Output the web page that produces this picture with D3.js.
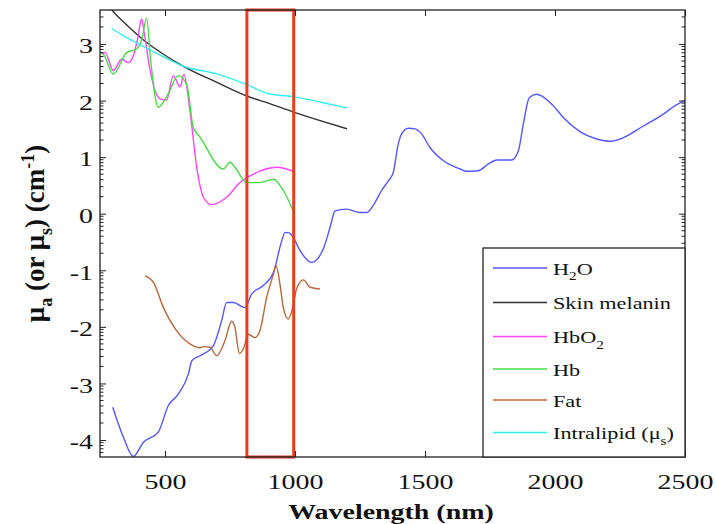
<!DOCTYPE html>
<html>
<head>
<meta charset="utf-8">
<script src="https://cdn.jsdelivr.net/npm/d3@7"></script>
<style>
  body { margin: 0; background: #fff; }
  text { font-family: "Liberation Serif", "Times New Roman", serif; }
</style>
</head>
<body>
<svg id="chart" width="715" height="524"></svg>
<script>
// log10 absorption (or scattering) coefficient, cm^-1
var h2o = [[299,-3.42],[340,-3.95],[378,-4.29],[417,-4.04],[474,-3.86],[513,-3.39],[551,-3.19],[590,-2.83],[603,-2.6],
  [635,-2.51],[686,-2.33],[718,-1.89],[737,-1.57],[763,-1.57],[808,-1.66],[833,-1.42],[878,-1.27],[917,-1.04],[949,-0.48],
  [962,-0.33],[978,-0.34],[993,-0.42],[1019,-0.65],[1064,-0.86],[1109,-0.62],[1135,-0.24],[1154,0.05],[1199,0.08],
  [1250,0.02],[1276,0.02],[1308,0.2],[1333,0.41],[1359,0.58],[1378,0.73],[1397,1.23],[1410,1.41],[1436,1.51],[1462,1.5],
  [1487,1.41],[1519,1.17],[1570,0.94],[1635,0.79],[1660,0.75],[1705,0.76],[1744,0.88],[1776,0.95],[1833,0.95],[1859,1.11],
  [1878,1.58],[1901,2.05],[1929,2.11],[1949,2.08],[1993,1.91],[2032,1.7],[2096,1.45],[2160,1.32],[2212,1.28],[2250,1.32],
  [2340,1.55],[2417,1.76],[2462,1.91],[2500,2.0]];

var melanin = [[280,3.7],[296,3.6],[350,3.35],[431,3.02],[500,2.8],[569,2.61],[700,2.32],[815,2.08],[900,1.95],
  [992,1.8],[1100,1.64],[1200,1.5]];

var hbo2 = [[254,2.83],[269,2.85],[301,2.53],[333,2.73],[359,2.67],[378,2.79],[395,3.1],[410,3.44],[420,3.2],[440,2.6],
  [481,2.03],[506,2.01],[532,2.44],[558,2.24],[573,2.46],[596,1.82],[622,0.82],[648,0.29],[679,0.16],[737,0.29],
  [788,0.55],[840,0.7],[930,0.82],[993,0.75]];

var hb = [[254,2.85],[263,2.82],[301,2.47],[353,2.85],[391,2.91],[412,3.1],[429,3.46],[445,2.7],[474,1.88],[510,2.1],
  [551,2.44],[583,2.29],[609,1.52],[635,1.35],[724,0.79],[750,0.91],[769,0.82],[814,0.55],[865,0.55],[917,0.61],
  [955,0.41],[993,0.05]];

var fat = [[423,-1.1],[455,-1.21],[494,-1.66],[545,-2.07],[596,-2.3],[635,-2.37],[647,-2.35],[673,-2.36],[699,-2.51],
  [731,-2.24],[756,-1.9],[769,-2.01],[786,-2.47],[804,-2.36],[820,-2.13],[846,-2.19],[865,-2.07],[891,-1.48],[917,-1.07],
  [927,-0.92],[942,-1.24],[955,-1.66],[974,-1.86],[991,-1.66],[1006,-1.33],[1032,-1.17],[1058,-1.3],[1096,-1.33]];

var intralipid = [[295,3.27],[350,3.12],[431,2.92],[500,2.76],[569,2.61],[700,2.47],[815,2.28],[900,2.12],[992,2.07],
  [1100,1.97],[1200,1.87]];

var xTicks = [500, 1000, 1500, 2000, 2500];
var yTicks = [-4, -3, -2, -1, 0, 1, 2, 3];
var windowNm = [815, 995];

var series = [
  {name: "H2O", data: h2o, color: "#5555ff"},
  {name: "Skin melanin", data: melanin, color: "#333333"},
  {name: "HbO2", data: hbo2, color: "#ff44ff"},
  {name: "Hb", data: hb, color: "#44dd44"},
  {name: "Fat", data: fat, color: "#b8663c"},
  {name: "Intralipid", data: intralipid, color: "#33eeee"}
];

var margin = {top: 10, right: 30, bottom: 67, left: 100};
var width = 715 - margin.left - margin.right;
var height = 524 - margin.top - margin.bottom;
var sx = 1.27; // text in the figure is stretched sideways

var svg = d3.select('#chart');
var g = svg.append('g').attr('transform', 'translate(' + margin.left + ',' + margin.top + ')');

var x = d3.scaleLinear().domain([250, 2500]).range([0, width]);
var y = d3.scaleLinear().domain([-4.3, 3.6]).range([height, 0]);

g.append('clipPath').attr('id', 'clip')
  .append('rect').attr('width', width).attr('height', height);

var line = d3.line()
  .x(d => x(d[0]))
  .y(d => y(d[1]))
  .curve(d3.curveMonotoneX);

g.append('g').attr('clip-path', 'url(#clip)')
  .selectAll('path')
  .data(series)
  .enter()
  .append('path')
  .attr('d', d => line(d.data))
  .attr('fill', 'none')
  .attr('stroke', d => d.color)
  .attr('stroke-width', 1.4);

// therapeutic window box
g.append('rect')
  .attr('x', x(windowNm[0]))
  .attr('y', 0)
  .attr('width', x(windowNm[1]) - x(windowNm[0]))
  .attr('height', height)
  .attr('fill', 'none')
  .attr('stroke', '#e3401f')
  .attr('stroke-width', 3);

// axes (ticks pointing inward)
var xAxis = g.append('g').attr('transform', 'translate(0,' + height + ')')
  .call(d3.axisBottom(x).tickValues(xTicks).tickFormat(d3.format('d'))
    .tickSizeInner(-6).tickSizeOuter(0).tickPadding(16));
g.append('g')
  .call(d3.axisTop(x).tickValues(xTicks).tickSizeInner(-6).tickSizeOuter(0).tickFormat(''));
var yAxis = g.append('g')
  .call(d3.axisLeft(y).tickValues(yTicks).tickSizeInner(-6).tickSizeOuter(0).tickPadding(0));
g.append('g').attr('transform', 'translate(' + width + ',0)')
  .call(d3.axisRight(y).tickValues(yTicks).tickSizeInner(-6).tickSizeOuter(0).tickFormat(''));

g.selectAll('.domain').remove();
g.selectAll('.tick line').attr('stroke', '#222');

xAxis.selectAll('text')
  .attr('font-size', 22)
  .attr('fill', '#111')
  .attr('transform', 'scale(' + sx + ',1)');
yAxis.selectAll('text')
  .attr('font-size', 22)
  .attr('fill', '#111')
  .attr('x', -7 / sx)
  .attr('dy', '0.4em')
  .text(d => d < 0 ? '-' + Math.abs(d) : d)
  .attr('transform', 'scale(' + sx + ',1)');

// log-style minor ticks on both y sides
var minor = [];
for (var dec = -5; dec <= 3; dec++) {
  for (var k = 2; k <= 9; k++) {
    var v = dec + Math.log10(k);
    if (v > -4.3 && v < 3.6) minor.push(v);
  }
}
g.append('g').selectAll('line').data(minor).enter().append('line')
  .attr('x1', 0).attr('x2', 3.5)
  .attr('y1', d => y(d)).attr('y2', d => y(d))
  .attr('stroke', '#222');
g.append('g').selectAll('line').data(minor).enter().append('line')
  .attr('x1', width).attr('x2', width - 3.5)
  .attr('y1', d => y(d)).attr('y2', d => y(d))
  .attr('stroke', '#222');

// frame
g.append('rect')
  .attr('width', width).attr('height', height)
  .attr('fill', 'none')
  .attr('stroke', '#222')
  .attr('stroke-width', 1.3);

// legend
var legend = g.append('g').attr('transform', 'translate(' + (width - 202) + ',' + (height - 209) + ')');
legend.append('rect')
  .attr('width', 202).attr('height', 209)
  .attr('fill', '#fff')
  .attr('stroke', '#222')
  .attr('stroke-width', 1.3);

var legendRows = [20, 54.5, 88.5, 121, 152, 184.5];
var items = legend.selectAll('.legend-item')
  .data(series)
  .enter()
  .append('g')
  .attr('class', 'legend-item')
  .attr('transform', (d, i) => 'translate(0,' + legendRows[i] + ')');

items.append('line')
  .attr('x1', 10).attr('x2', 64)
  .attr('stroke', d => d.color)
  .attr('stroke-width', 1.4);

var labels = items.append('text')
  .attr('x', 70 / sx)
  .attr('y', 6.5)
  .attr('font-size', 17.5)
  .attr('fill', '#111')
  .attr('transform', 'scale(' + sx + ',1)');

labels.each(function (d) {
  var t = d3.select(this);
  if (d.name === 'H2O') {
    t.append('tspan').text('H');
    t.append('tspan').attr('dy', 6).attr('font-size', 12).text('2');
    t.append('tspan').attr('dy', -6).text('O');
  } else if (d.name === 'HbO2') {
    t.append('tspan').text('HbO');
    t.append('tspan').attr('dy', 6).attr('font-size', 12).text('2');
  } else if (d.name === 'Intralipid') {
    t.append('tspan').text('Intralipid (\u03bc');
    t.append('tspan').attr('dy', 6).attr('font-size', 12).text('s');
    t.append('tspan').attr('dy', -6).text(')');
  } else {
    t.text(d.name);
  }
});

// axis titles
svg.append('text')
  .attr('x', 391 / sx)
  .attr('y', 519)
  .attr('text-anchor', 'middle')
  .attr('font-size', 22)
  .attr('font-weight', 'bold')
  .attr('fill', '#111')
  .attr('transform', 'scale(' + sx + ',1)')
  .text('Wavelength (nm)');

var yTitle = svg.append('text')
  .attr('transform', 'translate(44,' + (margin.top + height / 2) + ') rotate(-90)')
  .attr('text-anchor', 'middle')
  .attr('font-size', 27)
  .attr('font-weight', 'bold')
  .attr('fill', '#111');
yTitle.append('tspan').text('\u03bc');
yTitle.append('tspan').attr('dy', 8).attr('font-size', 18).text('a');
yTitle.append('tspan').attr('dy', -8).text(' (or \u03bc');
yTitle.append('tspan').attr('dy', 8).attr('font-size', 18).text('s');
yTitle.append('tspan').attr('dy', -8).text(')  (cm');
yTitle.append('tspan').attr('dy', -10).attr('font-size', 18).text('-1');
yTitle.append('tspan').attr('dy', 10).text(')');
</script>
</body>
</html>
